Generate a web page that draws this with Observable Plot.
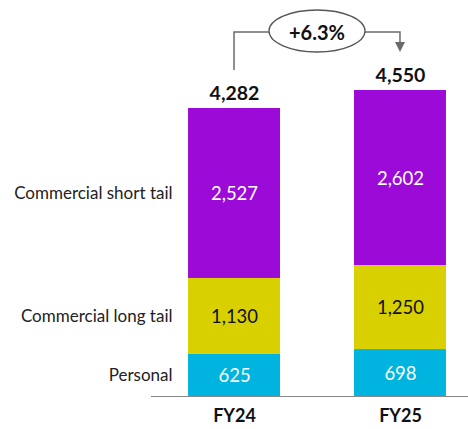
<!DOCTYPE html>
<html><head><meta charset="utf-8">
<script src="https://cdn.jsdelivr.net/npm/d3@7"></script>
<script src="https://cdn.jsdelivr.net/npm/@observablehq/plot@0.6"></script>
<style>body{margin:0;background:#fff}</style>
</head><body><div id="chart"></div>
<script>
const years = ["FY24", "FY25"];
const series = ["Personal", "Commercial long tail", "Commercial short tail"];
const personal = [625, 698];
const longTail = [1130, 1250];
const shortTail = [2527, 2602];
const totals = [4282, 4550];
const colors = ["#00b4e0", "#d8d000", "#9b0ad6"];
const textColors = ["#ffffff", "#111111", "#ffffff"];

const valuesBySeries = [personal, longTail, shortTail];
const rows = [];
series.forEach((s, i) => years.forEach((y, j) => rows.push({year: y, series: s, value: valuesBySeries[i][j], tc: textColors[i]})));
const totalRows = years.map((y, j) => ({year: y, total: totals[j]}));
const fmt = d3.format(",");
const FONT = "Lato, 'Open Sans', sans-serif";

const growth = (totals[1] / totals[0] - 1) * 100;
const growthLabel = (growth >= 0 ? "+" : "") + growth.toFixed(1) + "%";

function connector(index, scales, values, dimensions, context) {
  const x = scales.x, y = scales.y, bw = x.bandwidth();
  const x0 = x(years[0]) + bw / 2, x1 = x(years[1]) + bw / 2, xm = (x0 + x1) / 2;
  const yStart = y(totals[0]) - 38;
  const yTip = y(totals[1]) - 38;
  const yTop = y(Math.max(...totals)) - 58;
  const g = d3.create("svg:g");
  g.append("path")
    .attr("d", `M${x0},${yStart}V${yTop}H${x1}V${yTip - 9}`)
    .attr("fill", "none").attr("stroke", "#6b6b6b").attr("stroke-width", 1.5);
  g.append("path")
    .attr("d", `M${x1 - 5},${yTip - 10}L${x1 + 5},${yTip - 10}L${x1},${yTip}Z`)
    .attr("fill", "#6b6b6b");
  g.append("ellipse")
    .attr("cx", xm).attr("cy", yTop - 1).attr("rx", 48).attr("ry", 21)
    .attr("fill", "#fff").attr("stroke", "#555").attr("stroke-width", 1.3);
  g.append("text")
    .attr("x", xm).attr("y", yTop + 1).attr("text-anchor", "middle").attr("dy", "0.35em")
    .attr("font-weight", "bold").attr("font-size", 20).attr("fill", "#111")
    .attr("font-family", FONT)
    .text(growthLabel);
  return g.node();
}

const plot = Plot.plot({
  width: 468,
  height: 429,
  marginTop: 0,
  marginBottom: 33,
  marginLeft: 151,
  marginRight: 0,
  style: {fontFamily: FONT, fontSize: "15px", background: "#fff", color: "#222"},
  x: {domain: years, paddingInner: 0.446, paddingOuter: 0.178, align: 0.627, round: false, axis: null},
  y: {domain: [0, 5888], axis: null},
  color: {domain: series, range: colors},
  marks: [
    Plot.barY(rows, {x: "year", y: "value", fill: "series", inset: 0}),
    Plot.ruleY([0], {stroke: "#888", strokeWidth: 1.2}),
    Plot.text(rows, Plot.stackY({x: "year", y: "value", z: "series", text: d => d.tc === "#ffffff" ? fmt(d.value) : "", fill: "#ffffff", fontSize: 18.5, dy: 1})),
    Plot.text(rows, Plot.stackY({x: "year", y: "value", z: "series", text: d => d.tc === "#ffffff" ? "" : fmt(d.value), fill: "#111", fontSize: 18.5, dy: 1})),
    Plot.text(rows.filter(d => d.year === years[0]), Plot.stackY({x: "year", y: "value", text: "series", textAnchor: "end", dx: -62, fill: "#222", fontSize: 17})),
    Plot.text(totalRows, {x: "year", y: "total", text: d => fmt(d.total), dy: -15, fontWeight: "bold", fontSize: 19.5, fill: "#111"}),
    Plot.text(years, {x: d => d, y: () => 0, text: d => d, dy: 20, fontWeight: "bold", fontSize: 18, fill: "#111"}),
    connector
  ]
});
document.getElementById("chart").appendChild(plot);
</script>
</body></html>
